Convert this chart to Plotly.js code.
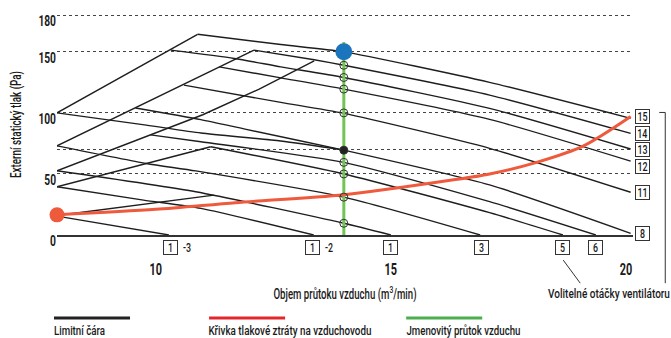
<!DOCTYPE html>
<html><head><meta charset="utf-8">
<script src="https://cdn.plot.ly/plotly-3.0.1.min.js"></script>
<style>html,body{margin:0;padding:0;background:#fff;} #chart{width:671px;height:338px;}</style>
</head><body><div id="chart"></div>
<script>
// ---- Data (flow m3/min, external static pressure Pa) ----
// Fan-speed curves
const c15x = [10.89, 12.66, 14, 17.1, 20.1];
const c15y = [164.4, 156, 150, 125, 95.5];
const c14x = [12.09, 13.37, 14, 17.1, 20.1];
const c14y = [151.4, 143.5, 139, 114.6, 83.2];
const c13x = [10.32, 11.67, 12.66, 14, 17.1, 20.1];
const c13y = [151.4, 144.6, 137.7, 129, 103.7, 70.4];
const c12x = [11.35, 12.66, 14, 17.1, 20.1];
const c12y = [137.7, 128.7, 119.5, 94.7, 60.5];
const c11x = [10.6, 12.66, 14, 17.1, 20.1];
const c11y = [122.7, 108.6, 99.6, 71, 35];
const c8x = [9.57, 10.96, 11.9, 14, 17.1, 20.1];
const c8y = [104, 94.5, 86.7, 69.5, 41, 1.4];
const c8bx = [7.9, 9.8, 10.96, 12.66, 14];
const c8by = [100, 90, 83.5, 77, 69.5];
const c6x = [9.89, 10.96, 14, 17.1, 19.36];
const c6y = [82, 76.4, 59.5, 27.3, 0];
const c5x = [11.17, 14, 17.1, 18.66];
const c5y = [72.3, 50, 18.3, 0];
const c3x = [7.9, 9.8, 10.85, 14, 16.9];
const c3y = [73, 58.6, 52.5, 31, 0];
const c1x = [7.9, 10.85, 14, 15.0];
const c1y = [52.6, 35.4, 9.6, 0];
const c1m2x = [7.9, 9.74, 10.96, 13.36];
const c1m2y = [39.5, 28.6, 21.8, 0];
const c1m3x = [7.9, 10.28];
const c1m3y = [15.5, 0];
// Limit lines (rising)
const limAx = [7.9, 10.89],  limAy = [100, 164.4];
const limBx = [7.9, 12.09],  limBy = [73, 151.4];
const limCx = [7.9, 9.7, 11, 12.2, 13.37], limCy = [52.6, 79.5, 98.5, 119.5, 142.6];
const limDx = [7.9, 11.17],  limDy = [39.5, 72.3];
const limEx = [7.9, 11.24],  limEy = [16, 32.7];
// Duct pressure-loss curve
const ductX = [7.9, 10, 11.7, 14, 16.3, 17.1, 18.1, 19.1, 20.1];
const ductY = [16.5, 21, 26.5, 33, 45, 50, 59.5, 73, 97];
// Rated airflow
const ratedFlow = 14;
const ratedPressure = 150;
const ratedLineTop = 158;
const crossingPressures = [139, 129, 119.5, 100, 69.5, 59.5, 50, 31, 9.6];
// Labels
const rightLabels = ['15', '14', '13', '12', '11', '8'];
const bottomLabels = ['1', '1', '1', '3', '5', '6'];
const bottomSuffix = ['-3', '-2', '', '', '', ''];
const xTicks = [10, 15, 20];
const yTicks = [0, 50, 100, 150, 180];
const yMinorGrid = [70];

// ---- Chart ----
const FONT = "Roboto, 'Liberation Sans', Arial, sans-serif";
const BLACK = '#1e1e1e';
const TXT = '#1a1a1a';
const traces = [];
function blk(x, y, spline) {
  traces.push({x: x, y: y, type: 'scatter', mode: 'lines', hoverinfo: 'skip', showlegend: false,
    cliponaxis: false,
    line: {color: BLACK, width: 1.4, shape: spline ? 'spline' : 'linear', smoothing: 0.6}});
}
[[limAx, limAy], [limBx, limBy], [limCx, limCy], [limDx, limDy], [limEx, limEy]].forEach(p => blk(p[0], p[1], false));
const curves = [[c15x, c15y], [c14x, c14y], [c13x, c13y], [c12x, c12y], [c11x, c11y], [c8x, c8y], [c8bx, c8by],
  [c6x, c6y], [c5x, c5y], [c3x, c3y], [c1x, c1y], [c1m2x, c1m2y], [c1m3x, c1m3y]];
curves.forEach(p => blk(p[0], p[1], true));

traces.push({x: [ratedFlow, ratedFlow], y: [0, ratedLineTop], type: 'scatter', mode: 'lines', hoverinfo: 'skip',
  showlegend: false, line: {color: '#72c455', width: 3}});
traces.push({x: ductX, y: ductY, type: 'scatter', mode: 'lines', hoverinfo: 'skip', showlegend: false,
  line: {color: '#ef5a3d', width: 3, shape: 'spline', smoothing: 0.8}, cliponaxis: false});
traces.push({x: [ductX[0]], y: [ductY[0]], type: 'scatter', mode: 'markers', hoverinfo: 'skip', showlegend: false,
  cliponaxis: false, marker: {color: '#ef5a3d', size: 15}});
traces.push({x: crossingPressures.map(() => ratedFlow), y: crossingPressures, type: 'scatter', mode: 'markers',
  hoverinfo: 'skip', showlegend: false,
  marker: {size: 8, color: crossingPressures.map(v => v === 69.5 ? '#222' : 'rgba(0,0,0,0)'),
    line: {color: '#333', width: 1}}});
traces.push({x: [ratedFlow], y: [ratedPressure], type: 'scatter', mode: 'markers', hoverinfo: 'skip', showlegend: false,
  cliponaxis: false, marker: {color: '#1b75bc', size: 17}});

const annotations = [];
const rightCurves = [[c15x, c15y], [c14x, c14y], [c13x, c13y], [c12x, c12y], [c11x, c11y], [c8x, c8y]];
const rightYShift = [2, 0, 0, -5.5, 0, 0];
rightCurves.forEach((c, i) => {
  annotations.push({x: c[0][c[0].length - 1], y: c[1][c[1].length - 1], xref: 'x', yref: 'y', text: rightLabels[i],
    showarrow: false, xanchor: 'center', yanchor: 'middle', xshift: 11.5, yshift: rightYShift[i],
    bordercolor: '#333', borderwidth: 1, borderpad: 0,
    width: 13, height: 13, font: {family: FONT, size: 13, weight: 500, color: TXT}});
});
const bottomCurves = [c1m3x, c1m2x, c1x, c3x, c5x, c6x];
const bottomShift = [2, -1, 0, 1, 0, 0];
bottomCurves.forEach((cx, i) => {
  const xe = cx[cx.length - 1];
  annotations.push({x: xe, y: -0.057, xref: 'x', yref: 'paper', text: bottomLabels[i], showarrow: false,
    xanchor: 'center', yanchor: 'middle', xshift: bottomShift[i], bordercolor: '#333', borderwidth: 1, borderpad: 0,
    width: 13, height: 13, font: {family: FONT, size: 13, weight: 500, color: TXT}});
  if (bottomSuffix[i]) {
    annotations.push({x: xe, y: -0.057, xref: 'x', yref: 'paper', text: bottomSuffix[i], showarrow: false,
      xanchor: 'center', yanchor: 'middle', xshift: bottomShift[i] + 16,
      font: {family: FONT, size: 13, weight: 500, color: TXT}});
  }
});
annotations.push({x: 0.9575, y: -0.2636, xref: 'paper', yref: 'paper', text: 'Volitelné otáčky ventilátoru',
  showarrow: false, xanchor: 'center', yanchor: 'middle', font: {family: FONT, size: 13, weight: 500, color: TXT}});
const legendTexts = ['Limitní čára', 'Křivka tlakové ztráty na vzduchovodu', 'Jmenovitý průtok vzduchu'];
const legendColors = ['#222', '#e3262d', '#4cae4f'];
const legendTextX = [0.0391, 0.4052, 0.7052];
const legendX0 = [-0.0052, 0.264, 0.6062];
const legendX1 = [0.1268, 0.396, 0.7382];
const shapes = [];
legendTexts.forEach((t, i) => {
  annotations.push({x: legendTextX[i], y: -0.43, xref: 'paper', yref: 'paper', text: t, showarrow: false,
    xanchor: 'center', yanchor: 'middle', font: {family: FONT, size: 13.5, weight: 500, color: TXT}});
  shapes.push({type: 'line', xref: 'paper', yref: 'paper', x0: legendX0[i], x1: legendX1[i], y0: -0.376, y1: -0.376,
    line: {color: legendColors[i], width: 3}});
});
shapes.push({type: 'line', xref: 'paper', yref: 'paper', x0: 0.8789, y0: -0.1136, x1: 0.9084, y1: -0.218,
  line: {color: '#333', width: 1}});
shapes.push({type: 'line', xref: 'paper', yref: 'paper', x0: 1.0456, y0: 0.5545, x1: 1.056, y1: 0.5545,
  line: {color: '#333', width: 1}});
shapes.push({type: 'line', xref: 'paper', yref: 'paper', x0: 1.056, y0: 0.5545, x1: 1.056, y1: -0.218,
  line: {color: '#333', width: 1}});

const layout = {
  width: 671, height: 338,
  margin: {l: 57, r: 38.25, t: 13.78, b: 103, pad: 0},
  paper_bgcolor: '#fff', plot_bgcolor: '#fff',
  font: {family: FONT, size: 14, color: TXT},
  showlegend: false,
  xaxis: {range: [7.9, 20.15], tickvals: xTicks, ticktext: xTicks.map(String), showgrid: false, zeroline: false,
    showline: true, linecolor: '#333', linewidth: 2, ticks: '', ticklabelstandoff: 19,
    tickfont: {family: FONT, size: 16, weight: 700, color: TXT},
    title: {text: 'Objem průtoku vzduchu (m<sup>3</sup>/min)', standoff: 11,
      font: {family: FONT, size: 14, weight: 500, color: TXT}}},
  yaxis: {range: [0, 181], tickvals: yTicks, ticktext: yTicks.map(String), showgrid: true, griddash: 'dot',
    gridcolor: '#444', gridwidth: 1, zeroline: false, showline: false, ticks: '', ticklabelshift: 6,
    minor: {tickvals: yMinorGrid, showgrid: true, griddash: 'dot', gridcolor: '#444', gridwidth: 1, ticks: ''},
    tickfont: {family: FONT, size: 15, weight: 700, color: TXT},
    title: {text: 'Externí statický tlak (Pa)', standoff: 5, font: {family: FONT, size: 14, weight: 500, color: TXT}}},
  annotations: annotations,
  shapes: shapes
};
// target widths to mimic the condensed typeface of the original
const condensedWidths = {'Objem': 143, 'Externí': 107, 'Volitelné': 122, 'Limitní': 51, 'Křivka': 163, 'Jmenovitý': 114};
Plotly.newPlot('chart', traces, layout, {staticPlot: true, displayModeBar: false}).then(() => {
  document.querySelectorAll('#chart svg text').forEach(t => {
    const s = t.textContent;
    if (!s || !s.trim()) return;
    const len = t.getComputedTextLength();
    let target = len * 0.68;
    Object.keys(condensedWidths).forEach(k => { if (s.startsWith(k)) target = condensedWidths[k]; });
    t.setAttribute('textLength', target.toFixed(1));
    t.setAttribute('lengthAdjust', 'spacingAndGlyphs');
    // shrink the (invisible) annotation background box to the condensed text
    const g = t.closest('g.annotation');
    if (g && s.length > 2) {
      const bg = g.querySelector('rect.bg');
      if (bg && bg.getAttribute('width')) {
        const w = parseFloat(bg.getAttribute('width'));
        const x = parseFloat(bg.getAttribute('x') || 0);
        const d = len - target;
        bg.setAttribute('width', Math.max(1, w - d).toFixed(1));
        bg.setAttribute('x', (x + d / 2).toFixed(1));
      }
    }
  });
});
</script></body></html>
